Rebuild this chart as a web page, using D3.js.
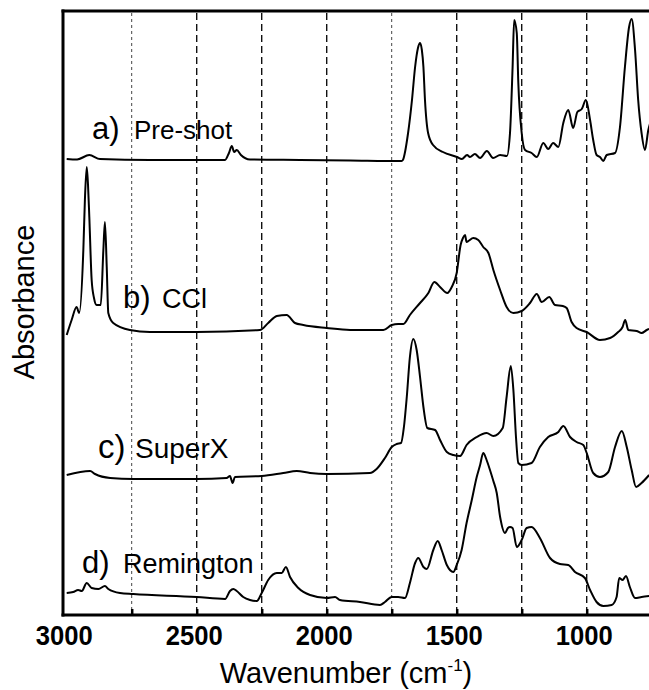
<!DOCTYPE html>
<html><head><meta charset="utf-8">
<script src="https://cdn.jsdelivr.net/npm/d3@7"></script>
<style>body{margin:0;background:#fff}svg{display:block}text{font-family:"Liberation Sans",Arial,Helvetica,sans-serif}</style>
</head><body>
<svg id="chart" width="649" height="690"></svg>
<script>
// Wavenumbers (cm-1) and stacked absorbance (arbitrary units, offset per trace)
const preShotW = [3000,2960,2913,2872,2680,2391,2376,2365,2356,2346,2330,2295,2103,1910,1712,1707,1687,1672,1660,1649,1641,1634,1628,1622,1610,1591,1553,1499,1480,1460,1449,1430,1410,1384,1360,1333,1307,1295,1285,1279,1269,1263,1250,1237,1212,1192,1167,1148,1129,1109,1090,1071,1052,1036,1019,1003,987,975,962,949,936,923,891,872,853,837,827,814,802,789,776,763,752];
const preShotA = [4.55,4.545,4.59,4.55,4.54,4.54,4.61,4.68,4.62,4.64,4.59,4.545,4.54,4.535,4.53,4.54,4.81,5.14,5.47,5.66,5.71,5.64,5.47,5.14,4.81,4.69,4.62,4.57,4.55,4.59,4.57,4.60,4.56,4.63,4.56,4.59,4.58,4.81,5.47,5.94,5.81,5.31,4.81,4.64,4.61,4.57,4.71,4.65,4.71,4.67,4.91,5.04,4.86,5.02,5.05,5.14,4.94,4.74,4.59,4.57,4.53,4.59,4.61,4.87,5.47,5.87,5.95,5.64,5.14,4.81,4.64,4.84,4.94];

const cclW = [3000,2981,2962,2952,2936,2930,2923,2918,2913,2904,2895,2885,2869,2859,2853,2846,2840,2821,2757,2680,2500,2257,2225,2192,2154,2122,2090,2000,1910,1782,1750,1725,1705,1680,1641,1609,1586,1564,1536,1519,1500,1485,1476,1468,1462,1455,1436,1417,1398,1378,1359,1333,1308,1282,1250,1218,1192,1173,1144,1122,1092,1077,1058,1039,1000,949,910,879,862,852,840,808,789,769,760];
const cclA = [2.79,2.94,3.07,3.01,3.64,4.14,4.47,4.29,3.97,3.34,3.16,3.09,3.09,3.64,3.92,3.47,3.01,2.91,2.84,2.82,2.82,2.84,2.91,2.98,2.99,2.91,2.89,2.86,2.84,2.84,2.89,2.90,2.90,2.99,3.11,3.21,3.32,3.27,3.21,3.27,3.41,3.69,3.76,3.79,3.72,3.73,3.76,3.74,3.67,3.61,3.44,3.24,3.07,3.01,3.03,3.11,3.20,3.12,3.17,3.09,3.08,3.06,2.92,2.86,2.82,2.74,2.76,2.82,2.87,2.94,2.84,2.83,2.81,2.84,2.85];

const superXW = [3000,2910,2891,2833,2744,2500,2385,2372,2362,2353,2250,2167,2115,2064,2000,1834,1808,1776,1750,1731,1714,1703,1692,1680,1667,1654,1641,1628,1613,1583,1564,1538,1513,1487,1462,1423,1385,1359,1323,1308,1292,1282,1272,1263,1250,1212,1180,1148,1109,1090,1064,1039,1013,1000,975,949,917,891,865,846,827,810,789,760];
const superXA = [1.39,1.43,1.40,1.36,1.35,1.35,1.36,1.38,1.31,1.37,1.38,1.41,1.43,1.41,1.40,1.41,1.45,1.56,1.67,1.70,1.71,1.87,2.17,2.57,2.75,2.64,2.37,2.07,1.86,1.84,1.74,1.62,1.59,1.58,1.69,1.77,1.81,1.78,1.86,2.17,2.48,2.24,1.77,1.51,1.49,1.51,1.67,1.77,1.82,1.88,1.77,1.72,1.69,1.61,1.41,1.37,1.42,1.67,1.83,1.67,1.44,1.27,1.31,1.39];

const remingtonW = [3000,2975,2956,2942,2923,2904,2878,2853,2840,2795,2744,2500,2391,2372,2359,2346,2321,2295,2269,2250,2225,2192,2173,2157,2141,2109,2064,2000,1968,1949,1872,1795,1776,1750,1725,1699,1680,1660,1648,1628,1615,1590,1573,1558,1538,1513,1500,1481,1462,1442,1423,1410,1398,1385,1372,1359,1346,1333,1314,1303,1295,1285,1269,1250,1231,1212,1180,1141,1103,1071,1045,1007,987,962,936,904,885,875,862,849,834,814,789,760];
const remingtonA = [0.21,0.22,0.24,0.23,0.31,0.26,0.25,0.28,0.25,0.21,0.20,0.17,0.15,0.23,0.25,0.23,0.17,0.14,0.13,0.21,0.34,0.41,0.41,0.47,0.37,0.26,0.19,0.16,0.17,0.14,0.12,0.09,0.12,0.17,0.17,0.16,0.31,0.51,0.56,0.47,0.45,0.64,0.73,0.64,0.49,0.42,0.49,0.64,0.91,1.14,1.37,1.49,1.61,1.54,1.44,1.33,1.21,0.97,0.81,0.86,0.87,0.86,0.67,0.74,0.86,0.87,0.76,0.56,0.50,0.49,0.42,0.36,0.24,0.12,0.08,0.09,0.17,0.36,0.34,0.38,0.27,0.16,0.17,0.18];

const labelTicks = [3000, 2500, 2000, 1500, 1000];
const gridLines = [2750, 2500, 2250, 2000, 1750, 1500, 1250, 1000];
const finerLines = [2750, 1750];
const traceLetters = ["a)", "b)", "c)", "d)"];
const traceNames = ["Pre-shot", "CCl", "SuperX", "Remington"];

const svg = d3.select("#chart");
const x = d3.scaleLinear().domain([3000, 1000]).range([66.7, 586.7]);
const y = d3.scaleLinear().domain([0, 6.03]).range([614, 11]);

const plotTop = 11, plotBottom = 615, plotLeft = 63, plotRight = 649;

// dashed reference lines
svg.append("g").selectAll("line").data(gridLines).join("line")
  .attr("x1", d => x(d)).attr("x2", d => x(d))
  .attr("y1", plotTop + 2).attr("y2", plotBottom)
  .attr("stroke", d => finerLines.includes(d) ? "#444" : "#111")
  .attr("stroke-width", d => finerLines.includes(d) ? 1 : 1.4)
  .attr("stroke-dasharray", d => finerLines.includes(d) ? "3,3" : "7,4");

// spectra
const series = [
  {w: preShotW, a: preShotA},
  {w: cclW, a: cclA},
  {w: superXW, a: superXA},
  {w: remingtonW, a: remingtonA}
];
const line = d3.line().x(d => x(d[0])).y(d => y(d[1])).curve(d3.curveMonotoneX);
svg.append("defs").append("clipPath").attr("id", "clip")
  .append("rect").attr("x", plotLeft).attr("y", plotTop).attr("width", plotRight - plotLeft).attr("height", plotBottom - plotTop);
svg.append("g").attr("clip-path", "url(#clip)").selectAll("path").data(series).join("path")
  .attr("d", s => line(s.w.map((w, i) => [w, s.a[i]])))
  .attr("fill", "none").attr("stroke", "#000").attr("stroke-width", 2).attr("stroke-linejoin", "round");

// minor inward ticks
const minorAxis = d3.axisBottom(x).tickValues(gridLines).tickSize(-6).tickFormat("");
const gm = svg.append("g").attr("transform", `translate(0,${plotBottom})`).call(minorAxis);
gm.select(".domain").remove();
gm.selectAll(".tick line").attr("stroke", "#000").attr("stroke-width", 2.5);

// labelled axis
const axis = d3.axisBottom(x).tickValues(labelTicks).tickSize(0).tickFormat(d3.format("d"));
const ga = svg.append("g").attr("transform", `translate(0,${plotBottom})`).call(axis);
ga.select(".domain").remove();
ga.selectAll(".tick text")
  .attr("y", 30).attr("dy", 0).attr("dx", -3)
  .attr("font-size", 28).attr("font-weight", "bold").attr("fill", "#000")
  .attr("font-family", "'Liberation Sans',Arial,sans-serif")
  .attr("textLength", 57).attr("lengthAdjust", "spacingAndGlyphs");

// frame
svg.append("line").attr("x1", plotLeft - 1.5).attr("x2", plotRight).attr("y1", plotBottom).attr("y2", plotBottom).attr("stroke", "#000").attr("stroke-width", 3);
svg.append("line").attr("x1", plotLeft).attr("x2", plotLeft).attr("y1", plotTop - 1.5).attr("y2", plotBottom + 1.5).attr("stroke", "#000").attr("stroke-width", 3);
svg.append("line").attr("x1", plotLeft - 1.5).attr("x2", plotRight).attr("y1", plotTop).attr("y2", plotTop).attr("stroke", "#000").attr("stroke-width", 3);

// trace labels
const labelPos = [
  {x: 92, nx: 134, y: 139, ls: 31, ns: 26},
  {x: 123, nx: 162, y: 308, ls: 31, ns: 27},
  {x: 98, nx: 135, y: 458, ls: 33, ns: 28},
  {x: 82, nx: 123, y: 573, ls: 31, ns: 27}
];
traceLetters.forEach((t, i) => {
  const p = labelPos[i];
  const tx = svg.append("text").attr("y", p.y).attr("fill", "#000");
  tx.append("tspan").attr("x", p.x).attr("font-size", p.ls).text(t);
  tx.append("tspan").attr("x", p.nx).attr("font-size", p.ns).text(traceNames[i]);
});

// axis titles
const xt = svg.append("text").attr("x", 346).attr("y", 683).attr("text-anchor", "middle").attr("font-size", 29).attr("fill", "#000");
xt.append("tspan").text("Wavenumber (cm");
xt.append("tspan").attr("font-size", 17).attr("dy", -12).text("-1");
xt.append("tspan").attr("dy", 12).text(")");

svg.append("text").attr("transform", "translate(34,302) rotate(-90)").attr("text-anchor", "middle")
  .attr("font-size", 29).attr("fill", "#000").text("Absorbance");
</script>
</body></html>
